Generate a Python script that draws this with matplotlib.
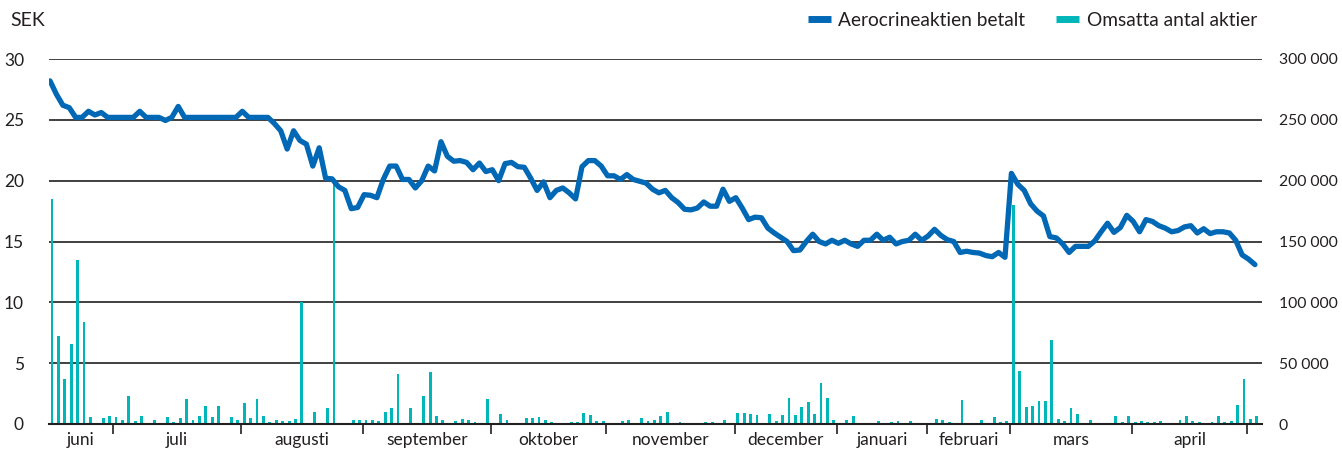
import matplotlib
matplotlib.use("Agg")
from matplotlib import pyplot as plt
from matplotlib.lines import Line2D
from matplotlib.ticker import FuncFormatter

plt.rcParams['font.family'] = ['Lato', 'DejaVu Sans']

# closing price per trading day, SEK
price = [
    28.2, 27.1, 26.2, 26.0, 25.2, 25.2, 25.7, 25.4, 25.6, 25.2,
    25.2, 25.2, 25.2, 25.2, 25.7, 25.2, 25.2, 25.2, 24.95, 25.2,
    26.1, 25.2, 25.2, 25.2, 25.2, 25.2, 25.2, 25.2, 25.2, 25.2,
    25.7, 25.2, 25.2, 25.2, 25.2, 24.7, 24.1, 22.6, 24.1, 23.3,
    23.0, 21.2, 22.7, 20.2, 20.15, 19.5, 19.2, 17.7, 17.8, 18.85,
    18.8, 18.6, 20.1, 21.2, 21.2, 20.1, 20.1, 19.4, 20.0, 21.2,
    20.8, 23.2, 22.0, 21.6, 21.65, 21.5, 20.9, 21.45, 20.75, 20.9,
    20.0, 21.4, 21.5, 21.15, 21.1, 20.2, 19.2, 19.9, 18.6, 19.2,
    19.4, 19.0, 18.5, 21.15, 21.65, 21.65, 21.2, 20.4, 20.4, 20.1,
    20.5, 20.1, 19.95, 19.8, 19.3, 19.0, 19.2, 18.6, 18.2, 17.65,
    17.6, 17.75, 18.25, 17.9, 17.9, 19.3, 18.3, 18.6, 17.75, 16.8,
    17.0, 16.95, 16.1, 15.7, 15.35, 15.0, 14.25, 14.3, 15.0, 15.6,
    15.0, 14.8, 15.1, 14.85, 15.1, 14.8, 14.6, 15.1, 15.1, 15.6,
    15.1, 15.35, 14.8, 15.0, 15.1, 15.6, 15.1, 15.45, 16.0, 15.5,
    15.15, 15.0, 14.1, 14.2, 14.1, 14.05, 13.85, 13.75, 14.1, 13.7,
    20.6, 19.7, 19.2, 18.1, 17.5, 17.1, 15.4, 15.3, 14.8, 14.1,
    14.6, 14.6, 14.6, 15.05, 15.8, 16.5, 15.75, 16.15, 17.15, 16.65,
    15.8, 16.8, 16.65, 16.3, 16.1, 15.8, 15.9, 16.2, 16.3, 15.7,
    16.05, 15.65, 15.8, 15.8, 15.7, 15.1, 13.9, 13.55, 13.1,
]

# traded shares per day
volume = [
    185000, 72000, 37000, 66000, 135000, 84000, 6000, 500, 5100, 6750,
    5900, 3500, 23000, 2700, 6750, 1100, 3500, 1100, 5900, 1900,
    5100, 20500, 3500, 6750, 14900, 5900, 14900, 1100, 5900, 3500,
    17300, 5100, 20500, 6750, 1900, 3500, 2700, 2700, 4300, 100000,
    1100, 10000, 1100, 13200, 200000, 1100, 300, 3500, 3500, 3500,
    3500, 2700, 10000, 13200, 40800, 1100, 13200, 1100, 23000, 42400,
    6750, 3500, 1100, 2700, 4300, 3500, 1900, 1100, 20500, 0,
    8400, 3500, 1100, 1100, 5100, 5100, 5900, 3500, 1900, 1100,
    1100, 1900, 1900, 9200, 7600, 2700, 2700, 1100, 0, 2700,
    3500, 1100, 5100, 2700, 3500, 6750, 10000, 300, 1900, 1100,
    1100, 1100, 1900, 1900, 300, 3500, 1100, 9200, 9200, 8400,
    7600, 1100, 8400, 2700, 7600, 21300, 7600, 14000, 18100, 8400,
    33500, 21300, 3500, 0, 3500, 6750, 0, 0, 1100, 2700,
    1100, 1900, 2700, 0, 2700, 1100, 0, 1100, 4300, 3500,
    1900, 0, 19700, 1100, 1100, 3500, 1100, 5900, 1900, 2700,
    180000, 43200, 14000, 14900, 18900, 18900, 69000, 4300, 2700, 13200,
    8400, 0, 3500, 300, 300, 1100, 6750, 1900, 6750, 1900,
    2700, 1900, 1900, 2700, 1100, 300, 3500, 6750, 2700, 1900,
    1100, 1900, 6750, 1900, 2700, 15700, 36700, 4300, 6750,
]

months = ['juni', 'juli', 'augusti', 'september', 'oktober', 'november',
          'december', 'januari', 'februari', 'mars', 'april']
# index of first trading day of each following month
month_start = [10, 30, 49, 69, 87, 107, 123, 137, 150, 169, 187]

blue = '#0068b4'
teal = '#00b6b8'
ink = '#231f20'

days = list(range(len(price)))

fig = plt.figure(figsize=(13.42, 4.55), dpi=100)
ax = fig.add_axes([49 / 1342, 1 - 424 / 455, (1262 - 49) / 1342, (424 - 59) / 455])
ax2 = ax.twinx()

ax2.bar([d + 0.3 for d in days], volume, width=0.45, color=teal, zorder=2)
ax.plot(days, price, color=blue, lw=3.8, solid_joinstyle='round',
        solid_capstyle='round', zorder=3)

ax.set_zorder(ax2.get_zorder() + 1)
ax.patch.set_visible(False)

ax.set_xlim(-0.16, 189.1)
ax.set_ylim(0, 30)
ax2.set_ylim(0, 300000)
ax.set_yticks(range(0, 31, 5))
ax2.set_yticks(range(0, 300001, 50000))
ax2.yaxis.set_major_formatter(FuncFormatter(lambda v, p: f'{int(v):,}'.replace(',', ' ')))

for y in range(5, 31, 5):
    ax2.axhline(y * 10000, color=ink, lw=1.2, zorder=1)

for a in (ax, ax2):
    for s in a.spines.values():
        s.set_visible(False)
ax2.spines['bottom'].set_visible(True)
ax2.spines['bottom'].set_color(ink)
ax2.spines['bottom'].set_linewidth(1.5)

ax.tick_params(axis='y', length=0, pad=18, labelsize=12.5, labelcolor=ink)
ax2.tick_params(axis='y', length=0, pad=12, labelsize=11.3, labelcolor=ink)

ticks = [m - 0.2 for m in month_start]
edges = [-0.16] + ticks
ax.set_xticks(ticks)
ax.set_xticklabels([])
ax.set_xticks([(edges[k] + edges[k + 1]) / 2 for k in range(len(months))], minor=True)
ax.set_xticklabels(months, minor=True)
ax.tick_params(axis='x', which='major', length=7, width=1.2, color=ink, direction='out')
ax.tick_params(axis='x', which='minor', length=0, pad=6, labelsize=12.5, labelcolor=ink)

fig.text(10 / 1342, 1 - 21 / 455, 'SEK', fontsize=14, color=ink, va='center')

handles = [Line2D([], [], color=blue, lw=5, solid_capstyle='butt'),
           Line2D([], [], color=teal, lw=5, solid_capstyle='butt')]
fig.legend(handles, ['Aerocrineaktien betalt', 'Omsatta antal aktier'],
           loc='center right', bbox_to_anchor=(1257 / 1342, 1 - 20 / 455),
           ncol=2, frameon=False, fontsize=13.8, handlelength=1.2,
           handletextpad=0.4, columnspacing=1.6, borderpad=0, borderaxespad=0,
           labelcolor=ink)

fig.savefig('out.png', dpi=100)
